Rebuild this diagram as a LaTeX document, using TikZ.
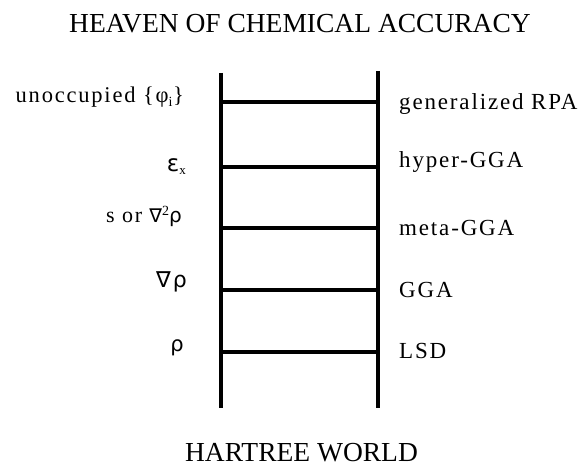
\documentclass[tikz,border=0pt]{standalone}
\usepackage{fontspec}
\setmainfont{Liberation Serif}
\newfontfamily\symf{DejaVu Sans}
\newfontfamily\spaced[LetterSpace=8]{Liberation Serif}
\begin{document}
\begin{tikzpicture}[x=1pt,y=1pt,
  rail/.style={line width=3.5pt},
  rung/.style={line width=3.1pt},
  bigtitle/.style={anchor=base, inner sep=0pt, font=\fontsize{27.5}{32}\selectfont},
  rlab/.style={anchor=base west, inner sep=0pt, font=\fontsize{23}{26}\spaced},
  llab/.style={anchor=base east, inner sep=0pt, font=\fontsize{22.5}{26}\spaced}]
\useasboundingbox (0,0) rectangle (586,466);
% title and bottom
\node[bigtitle] (top) at (300,433) {HEAVEN OF CHEMICAL ACCURACY};
\node[bigtitle] (bottom) at (301.5,5) {HARTREE WORLD};
% rails
\coordinate (LT) at (221,393);
\coordinate (LB) at (221,58);
\coordinate (RT) at (378,395);
\coordinate (RB) at (378,58);
\draw[rail] (LT) -- (LB);
\draw[rail] (RT) -- (RB);
% rungs
\foreach \i/\y in {1/364,2/299,3/238,4/176,5/114}{
  \coordinate (L\i) at (221,\y);
  \coordinate (R\i) at (378,\y);
  \draw[rung] (L\i) -- (R\i);
}
% right labels
\node[rlab] (rpa) at (399,356) {generalized RPA};
\node[rlab] (hyper) at (399,298) {hyper-GGA};
\node[rlab] (meta) at (399,230) {meta-GGA};
\node[rlab] (gga) at (399,168) {GGA};
\node[rlab] (lsd) at (399,107) {LSD};
% left labels
\node[llab] (unocc) at (184,363) {unoccupied \{φ\textsubscript{\fontsize{14}{16}\selectfont i}\}};
\node[llab] (epsx) at (186,294) {{\symf\fontsize{23}{26}\selectfont ε}\raisebox{-3pt}{\fontsize{13}{15}\selectfont x}};
\node[llab, font=\fontsize{22}{26}\spaced] (sor) at (182,243) {s or {\symf\fontsize{19}{22}\selectfont ∇}\raisebox{7pt}{\fontsize{14}{16}\selectfont 2}{\symf\fontsize{20}{22}\selectfont ρ}};
\node[llab] (grad) at (187,178) {\symf\fontsize{22}{26}\selectfont ∇\hspace{2pt}ρ};
\node[llab] (rho) at (184,114) {\symf\fontsize{21}{24}\selectfont ρ};
\end{tikzpicture}
\end{document}
